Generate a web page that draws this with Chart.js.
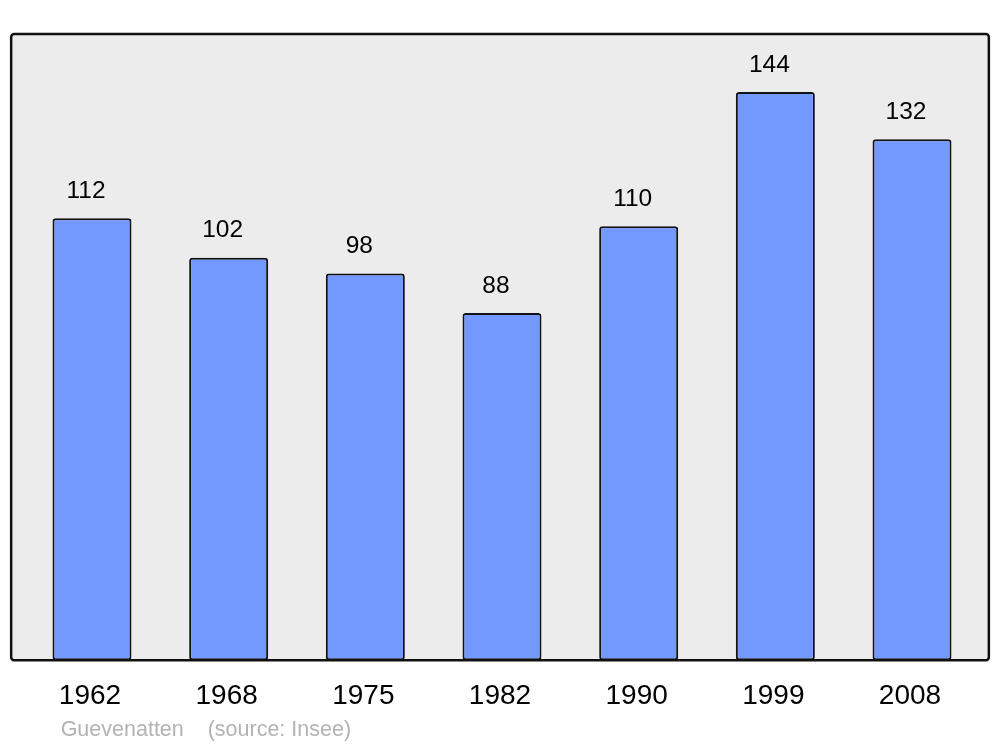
<!DOCTYPE html>
<html>
<head>
<meta charset="utf-8">
<script src="https://cdn.jsdelivr.net/npm/chart.js@4"></script>
<style>
  body { margin: 0; background: #fff; }
</style>
</head>
<body>
<canvas id="pop-chart" width="1000" height="747"></canvas>
<script>
var years = ['1962', '1968', '1975', '1982', '1990', '1999', '2008'];
var population = [112, 102, 98, 88, 110, 144, 132];
var yMax = 158.7;
var placeName = 'Guevenatten';
var sourceText = '(source: Insee)';

// grey frame behind the bars, border drawn on top
var framePlugin = {
   id: 'frame',
   frameBox: function (chart) {
      var a = chart.chartArea;
      return { x: a.left - 12.5, y: a.top, w: (a.right + 8.5) - (a.left - 12.5), h: a.bottom - a.top };
   },
   beforeDatasetsDraw: function (chart) {
      var ctx = chart.ctx, b = this.frameBox(chart);
      ctx.save();
      ctx.fillStyle = '#ececec';
      ctx.beginPath();
      ctx.roundRect(b.x, b.y, b.w, b.h, 3);
      ctx.fill();
      ctx.restore();
   },
   afterDatasetsDraw: function (chart) {
      var ctx = chart.ctx, b = this.frameBox(chart);
      ctx.save();
      ctx.strokeStyle = '#111';
      ctx.lineWidth = 2.5;
      ctx.beginPath();
      ctx.roundRect(b.x, b.y, b.w, b.h, 3);
      ctx.stroke();

      // value labels above the bars
      var meta = chart.getDatasetMeta(0);
      ctx.fillStyle = '#000';
      ctx.font = '24.5px "Liberation Sans", Arial, sans-serif';
      ctx.textAlign = 'center';
      ctx.textBaseline = 'middle';
      meta.data.forEach(function (bar, i) {
         ctx.fillText(population[i], bar.x - 6, bar.y - 27);
      });

      // source line under the axis
      ctx.fillStyle = '#b3b3b3';
      ctx.font = '21.5px "Liberation Sans", Arial, sans-serif';
      ctx.textAlign = 'left';
      ctx.fillText(placeName, chart.chartArea.left + 37, 730);
      ctx.fillText(sourceText, chart.chartArea.left + 184, 730);
      ctx.restore();
   }
};

var ctx = document.getElementById('pop-chart');

var chart = new Chart(ctx, {
   type: 'bar',
   data: {
      labels: years,
      datasets: [{
         data: population,
         backgroundColor: '#7399ff',
         borderColor: '#111',
         borderWidth: 2,
         borderRadius: 3,
         borderSkipped: false,
         barPercentage: 0.578,
         categoryPercentage: 1
      }]
   },
   options: {
      responsive: false,
      animation: false,
      layout: {
         padding: { left: 23.65, right: 19.65, top: 34, bottom: 23.2 }
      },
      plugins: {
         legend: { display: false },
         tooltip: { enabled: false }
      },
      scales: {
         x: {
            grid: { display: false },
            border: { display: false },
            ticks: {
               color: '#000',
               padding: 11,
               labelOffset: -2,
               font: { family: '"Liberation Sans", Arial, sans-serif', size: 28 }
            }
         },
         y: {
            display: false,
            min: 0,
            max: yMax
         }
      }
   },
   plugins: [framePlugin]
});
</script>
</body>
</html>
